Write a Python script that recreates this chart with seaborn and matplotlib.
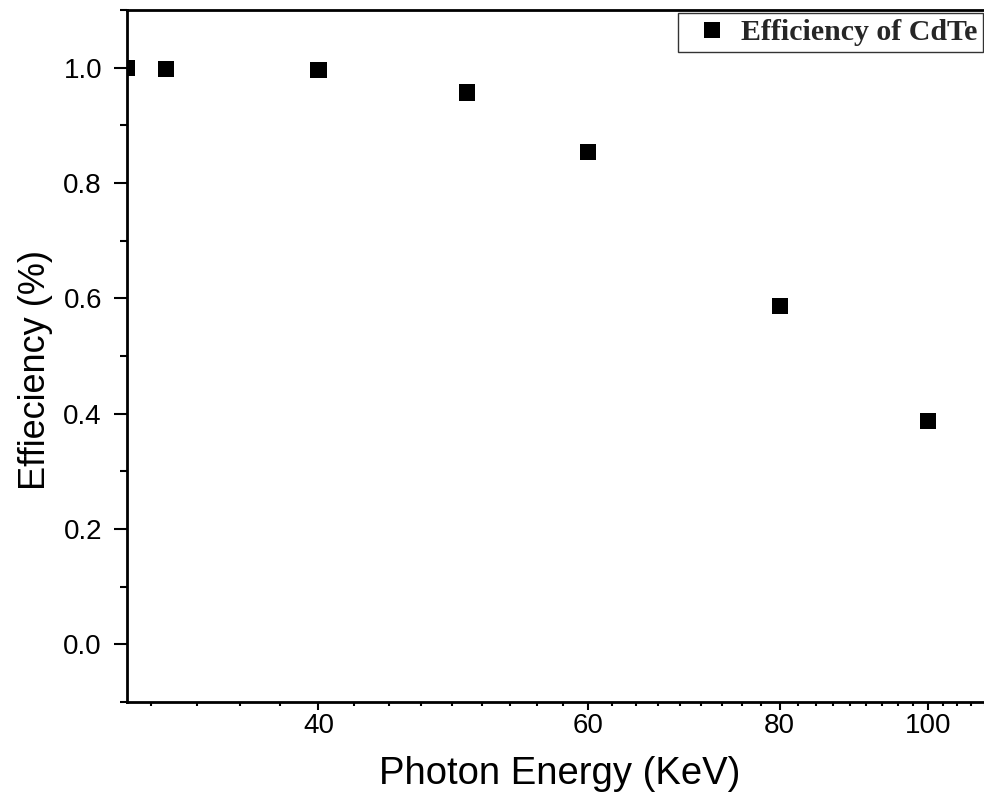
import numpy as np
import pandas as pd
import matplotlib
matplotlib.use("Agg")
import matplotlib.pyplot as plt
import matplotlib.ticker as mticker
import seaborn as sns

energy = [30, 31.8, 40, 50, 60, 80, 100]
efficiency = [1.0, 0.998, 0.996, 0.957, 0.854, 0.587, 0.387]
series_name = "Efficiency of CdTe"
x_major = [40, 60, 80, 100]
y_major = [0.0, 0.2, 0.4, 0.6, 0.8, 1.0]

df = pd.DataFrame({"energy": energy, "efficiency": efficiency, "series": series_name})

sns.set_theme(style="ticks")
plt.rcParams["font.family"] = ["Liberation Sans", "DejaVu Sans"]

fig = plt.figure(figsize=(9.84, 7.96), dpi=100)
W, H = 984, 796
left_px, right_px, top_px, bot_px = 127, 991.6, 10, 702
ax = fig.add_axes([left_px / W, 1 - bot_px / H, (right_px - left_px) / W, (bot_px - top_px) / H])

sns.scatterplot(data=df, x="energy", y="efficiency", hue="series", palette=["black"],
                marker="s", s=135, linewidth=0, ax=ax, clip_on=True, legend=True)

ax.set_xscale("log")
ax.set_xlim(30, 110)
ax.set_ylim(-0.1, 1.1)

ax.xaxis.set_major_locator(mticker.FixedLocator(x_major))
ax.xaxis.set_major_formatter(mticker.FixedFormatter([str(v) for v in x_major]))
minors = []
for base in [20, 40, 60, 80, 100]:
    for k in range(1, 9):
        minors.append(base + k * 20 / 9)
ax.xaxis.set_minor_locator(mticker.FixedLocator(minors))
ax.xaxis.set_minor_formatter(mticker.NullFormatter())

ax.yaxis.set_major_locator(mticker.FixedLocator(y_major))
ax.yaxis.set_major_formatter(mticker.FormatStrFormatter("%.1f"))
ax.yaxis.set_minor_locator(mticker.MultipleLocator(0.1))

ax.tick_params(which="both", direction="out", color="black", labelcolor="black", width=1.5)
ax.tick_params(axis="x", which="major", length=6, pad=2, labelsize=20)
ax.tick_params(axis="x", which="minor", length=3)
ax.tick_params(axis="y", which="major", length=9.5, pad=8.5, labelsize=20)
ax.tick_params(axis="y", which="minor", length=5)

for side in ["left", "bottom", "top", "right"]:
    ax.spines[side].set_visible(True)
    ax.spines[side].set_linewidth(2)
    ax.spines[side].set_color("black")

ax.set_xlabel("Photon Energy (KeV)", fontsize=27.5, labelpad=12, color="black")
ax.set_ylabel("Effieciency (%)", fontsize=26, color="black")
ax.yaxis.set_label_coords((53 - left_px) / (right_px - left_px), (bot_px - 370) / (bot_px - top_px))

handles, labels = ax.get_legend_handles_labels()
leg = ax.legend(handles, labels, loc="upper right", bbox_to_anchor=(983 / W, 1 - 13 / H),
                bbox_transform=fig.transFigure, borderaxespad=0, frameon=True, fancybox=False,
                edgecolor="black", borderpad=0.2, handletextpad=0.0, handlelength=1.9,
                markerscale=1.0, prop={"family": ["Liberation Serif"], "weight": "bold", "size": 21.5})
leg.get_frame().set_linewidth(1.0)

fig.savefig("out.png", dpi=100)
